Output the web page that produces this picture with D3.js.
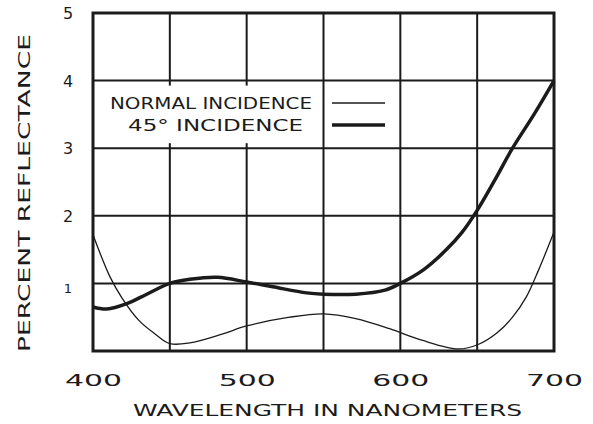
<!DOCTYPE html>
<html><head><meta charset="utf-8">
<script src="https://cdn.jsdelivr.net/npm/d3@7"></script>
<style>html,body{margin:0;padding:0;background:#fff}</style>
</head><body>
<svg id="c" width="593" height="424"></svg>
<script>
const xTicks = [400, 500, 600, 700];
const xGrid = [400, 450, 500, 550, 600, 650, 700];
const yTicks = [1, 2, 3, 4, 5];
const yGrid = [0, 1, 2, 3, 4, 5];
const normalWl = [400, 411, 419, 430, 440, 450, 463, 484, 500, 528, 550, 571, 593, 614, 638, 651, 663, 673, 682, 690, 700];
const normalVal = [1.72, 1.1, 0.78, 0.45, 0.26, 0.11, 0.12, 0.25, 0.37, 0.5, 0.55, 0.48, 0.33, 0.16, 0.03, 0.1, 0.27, 0.5, 0.8, 1.2, 1.76];
const deg45Wl = [400, 409, 422, 435, 450, 463, 481, 500, 517, 539, 550, 571, 590, 600, 615, 630, 640, 650, 662, 673, 687, 700];
const deg45Val = [0.65, 0.62, 0.7, 0.84, 1.0, 1.06, 1.09, 1.02, 0.95, 0.86, 0.84, 0.84, 0.9, 1.0, 1.2, 1.5, 1.75, 2.08, 2.55, 3.0, 3.5, 4.0];
const legendLabels = ["NORMAL INCIDENCE", "45\u00B0 INCIDENCE"];
const xTitle = "WAVELENGTH IN NANOMETERS";
const yTitle = "PERCENT REFLECTANCE";

const ink = "#1b1b1b";
const font = "DejaVu Sans, sans-serif";
const svg = d3.select("#c");
const x = d3.scaleLinear().domain([400, 700]).range([93, 554]);
const y = d3.scaleLinear().domain([0, 5]).range([351, 13]);

// grid
svg.append("g").selectAll("line").data(xGrid).join("line")
  .attr("x1", d => x(d)).attr("x2", d => x(d)).attr("y1", y(0)).attr("y2", y(5))
  .attr("stroke", ink).attr("stroke-width", 2);
svg.append("g").selectAll("line").data(yGrid).join("line")
  .attr("x1", x(400)).attr("x2", x(700)).attr("y1", d => y(d)).attr("y2", d => y(d))
  .attr("stroke", ink).attr("stroke-width", 2);

// legend box (white, interrupting grid)
svg.append("rect").attr("x", x(400) + 2).attr("y", y(4) + 5)
  .attr("width", x(550) - x(400) - 4).attr("height", y(3) - y(4) - 10).attr("fill", "#fff");

// border
svg.append("rect").attr("x", x(400)).attr("y", y(5)).attr("width", x(700) - x(400)).attr("height", y(0) - y(5))
  .attr("fill", "none").attr("stroke", ink).attr("stroke-width", 3);

const line = (wl, v) => d3.line().x((d, i) => x(wl[i])).y(d => y(d)).curve(d3.curveCatmullRom.alpha(0.5))(v);
svg.append("path").attr("d", line(normalWl, normalVal)).attr("fill", "none").attr("stroke", ink).attr("stroke-width", 1.3);
svg.append("path").attr("d", line(deg45Wl, deg45Val)).attr("fill", "none").attr("stroke", ink).attr("stroke-width", 3.5).attr("stroke-linejoin", "round");

// legend
const legY = [103, 125];
const legX = [[110, 202], [128, 175]];
legendLabels.forEach((t, i) => {
  svg.append("text").attr("x", legX[i][0]).attr("y", legY[i] + 6).text(t)
    .attr("font-family", font).attr("font-size", 16).attr("fill", ink)
    .attr("textLength", legX[i][1]).attr("lengthAdjust", "spacingAndGlyphs");
  svg.append("line").attr("x1", 332).attr("x2", 385).attr("y1", legY[i]).attr("y2", legY[i])
    .attr("stroke", ink).attr("stroke-width", i === 0 ? 1.3 : 3.5);
});

// y tick labels
svg.append("g").selectAll("text").data(yTicks).join("text")
  .attr("x", 68).attr("y", d => y(d) + (d === 1 ? 10 : 6)).attr("text-anchor", "middle")
  .attr("font-family", font).attr("font-size", d => d === 1 ? 13 : 16).attr("fill", ink).text(d => d);
// x tick labels
svg.append("g").selectAll("text").data(xTicks).join("text")
  .attr("x", d => x(d) - 28).attr("y", 386)
  .attr("font-family", font).attr("font-size", 15).attr("fill", ink)
  .attr("textLength", 57).attr("lengthAdjust", "spacingAndGlyphs").text(d => d);

svg.append("text").attr("x", 133).attr("y", 416).text(xTitle)
  .attr("font-family", font).attr("font-size", 16).attr("fill", ink)
  .attr("textLength", 389).attr("lengthAdjust", "spacingAndGlyphs");
svg.append("text").attr("transform", "translate(30,352) rotate(-90)").text(yTitle)
  .attr("font-family", font).attr("font-size", 16).attr("fill", ink)
  .attr("textLength", 318).attr("lengthAdjust", "spacingAndGlyphs");
</script>
</body></html>
